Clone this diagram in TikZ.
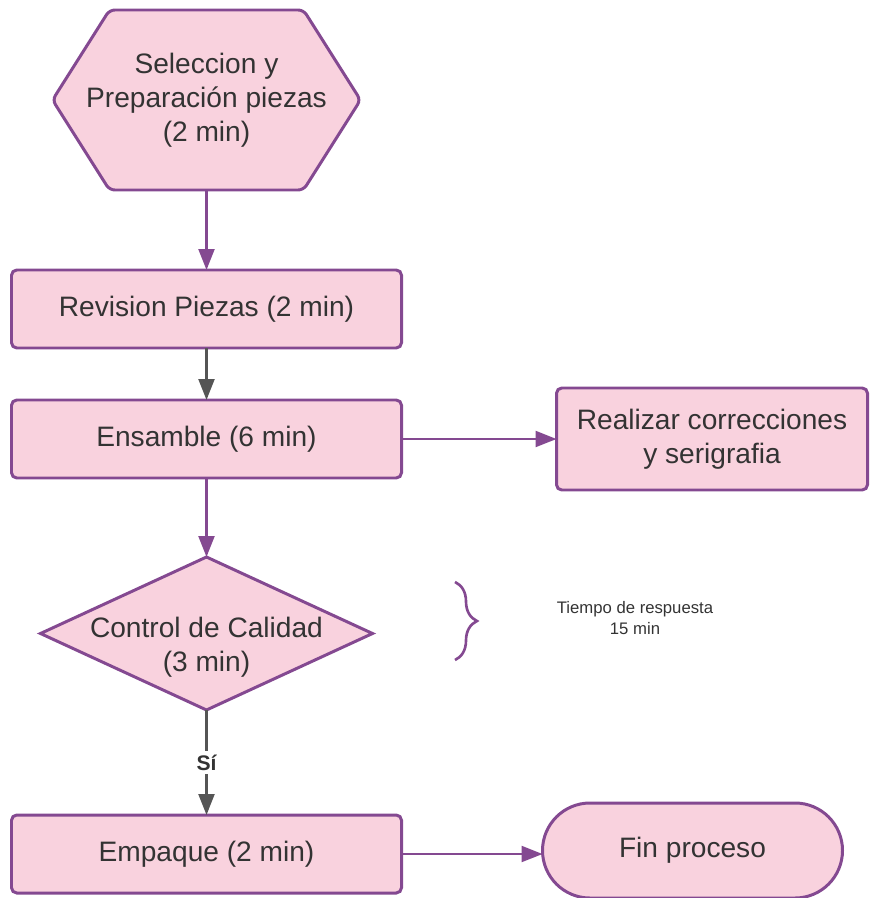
\documentclass[tikz,border=0pt]{standalone}
\usepackage{fontspec}
\setmainfont{Liberation Sans}
\usepackage{xcolor}
\usetikzlibrary{calc, shapes.geometric, backgrounds, arrows.meta, positioning, decorations.pathreplacing}

\definecolor{rosa}{RGB}{249,210,222}
\definecolor{morado}{RGB}{132,73,145}
\definecolor{texto}{RGB}{51,51,51}
\definecolor{gris}{RGB}{85,85,85}

\tikzset{
  forma/.style={draw=morado, fill=rosa, line width=1.7pt},
  letra/.style={text=texto, align=center, font=\fontsize{16}{19.5}\selectfont},
  caja/.style={forma, letra, rectangle, rounded corners=3pt, minimum width=7.8cm, minimum height=1.56cm, outer sep=0pt},
  flecha/.style={draw=morado, line width=1.3pt, -{Triangle[length=0.42cm,width=0.32cm]}},
  flechagris/.style={flecha, draw=gris}
}

\begin{document}
\begin{tikzpicture}
\useasboundingbox (0,0) rectangle (17.4,-17.96);

\node[letra, minimum width=6.16cm, minimum height=3.6cm, outer sep=0pt](sel) at (4.13,-2.0){Seleccion y\\Preparación piezas\\(2 min)};
\begin{scope}[on background layer]
\draw[forma, rounded corners=3pt] (sel.west) -- ([xshift=1.14cm]sel.north west) -- ([xshift=-1.14cm]sel.north east)
  -- (sel.east) -- ([xshift=-1.14cm]sel.south east) -- ([xshift=1.14cm]sel.south west) -- cycle;
\end{scope}

\node[caja, below=1.6cm of sel](rev){Revision Piezas (2 min)};
\node[caja, below=1.04cm of rev](ens){Ensamble (6 min)};
\node[caja, right=3.1cm of ens, minimum width=6.22cm, minimum height=2.04cm](cor){Realizar correcciones\\y serigrafia};
\node[caja, diamond, aspect=2.17, rounded corners=0pt, below=1.58cm of ens, minimum width=6.64cm, minimum height=3.06cm, inner sep=0pt](cal){};
\node[letra, yshift=-0.27cm](caltxt) at (cal){Control de Calidad\\(3 min)};
\node[caja, below=2.1cm of cal](emp){Empaque (2 min)};
\node[caja, right=2.82cm of emp, rounded corners=0.95cm, minimum width=6cm, minimum height=1.9cm, yshift=0.07cm](fin){Fin proceso};

% brace y nota
\draw[draw=morado, line width=1.5pt, decorate, decoration={brace, amplitude=0.44cm}] (9.1,-11.64) -- (9.1,-13.2);
\node[text=texto, align=center, font=\fontsize{9.5}{11.5}\selectfont](tiempo) at (12.7,-12.36){Tiempo de respuesta\\15 min};

\path[flecha](sel) -- (rev);
\path[flechagris](rev) -- (ens);
\path[flecha](ens) -- (cor);
\path[flecha](ens) -- (cal);
\path[flechagris](cal) -- node[midway, fill=white, text=texto, font=\fontsize{12}{14}\selectfont\bfseries, inner sep=2pt]{Sí} (emp);
\path[flecha](emp.east) -- (emp.east -| fin.west);
\end{tikzpicture}
\end{document}
